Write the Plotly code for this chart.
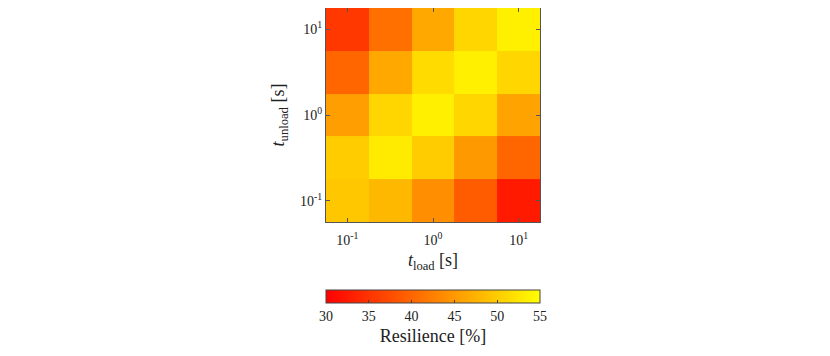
import numpy as np
import plotly.graph_objects as go

t_load = [0.1, 0.316, 1.0, 3.16, 10.0]
t_unload = [0.1, 0.316, 1.0, 3.16, 10.0]
# rows: t_unload from 0.1 (bottom) to 10 (top); columns: t_load
resilience = [
    [49.5, 48.0, 44.0, 39.0, 32.5],
    [50.0, 53.0, 50.0, 45.0, 40.0],
    [45.5, 51.0, 53.5, 51.0, 46.0],
    [40.0, 46.5, 51.5, 53.5, 51.0],
    [35.5, 41.0, 46.5, 51.0, 53.5],
]
tick_vals = [0.1, 1, 10]
tick_text = ["10<sup>-1</sup>", "10<sup>0</sup>", "10<sup>1</sup>"]
cb_ticks = [30, 35, 40, 45, 50, 55]

def edges(v):
    lv = np.log10(v)
    step = lv[1] - lv[0]
    e = np.concatenate([[lv[0] - step / 2], (lv[:-1] + lv[1:]) / 2, [lv[-1] + step / 2]])
    return list(10 ** e)

font = "Liberation Serif, serif"
fig = go.Figure(go.Heatmap(
    x=edges(t_load), y=edges(t_unload), z=resilience,
    colorscale=[[0, "rgb(255,0,0)"], [1, "rgb(255,255,0)"]],
    zmin=30, zmax=55,
    colorbar=dict(
        orientation="h", x=0.5, xanchor="center", xref="paper",
        y=-0.318, yanchor="top", yref="paper",
        len=214, lenmode="pixels", thickness=13,
        outlinewidth=1, outlinecolor="#444",
        tickvals=cb_ticks, ticks="inside", ticklen=3, tickcolor="#444",
        tickfont=dict(family=font, size=14, color="#222"),
        title=dict(text="Resilience [%]", side="bottom",
                   font=dict(family=font, size=18, color="#222")),
        xpad=0, ypad=0,
    ),
))
axis_common = dict(
    type="log", showgrid=False, zeroline=False,
    showline=True, linecolor="#555", linewidth=1, mirror="ticks",
    ticks="inside", ticklen=4, tickcolor="#555",
    tickvals=tick_vals, ticktext=tick_text,
    tickfont=dict(family=font, size=14, color="#222"),
)
fig.update_xaxes(**axis_common, range=[-1.25, 1.25], ticklabelstandoff=5,
                 title=dict(text="<i>t</i><sub>load</sub> [s]", standoff=6,
                            font=dict(family=font, size=18, color="#222")))
fig.update_yaxes(**axis_common, range=[-1.25, 1.25],
                 title=dict(text="<i>t</i><sub>unload</sub> [s]", standoff=10,
                            font=dict(family=font, size=18, color="#222")))
fig.update_layout(
    width=830, height=356,
    font=dict(family=font, size=14, color="#222"),
    margin=dict(l=318, r=298, t=0, b=142, autoexpand=False),
    paper_bgcolor="white", plot_bgcolor="white",
)
fig.write_html("out.html")
